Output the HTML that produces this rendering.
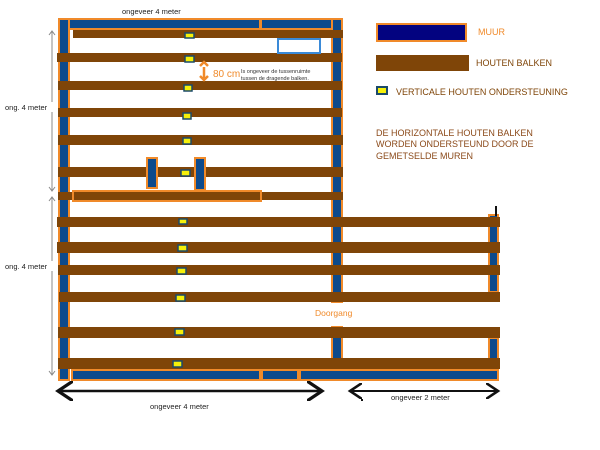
<!DOCTYPE html>
<html><head><meta charset="utf-8"><style>
html,body{margin:0;padding:0;background:#fff;}
svg{display:block;font-family:"Liberation Sans",sans-serif;}
</style></head><body>
<svg width="600" height="450" viewBox="0 0 600 450" xmlns="http://www.w3.org/2000/svg">
<defs>
<marker id="ah" markerWidth="8" markerHeight="8" refX="6" refY="4" orient="auto"><path d="M0,0 L6,4 L0,8" fill="none" stroke="#111" stroke-width="1.3"/></marker>
<marker id="ahs" markerWidth="8" markerHeight="8" refX="2" refY="4" orient="auto"><path d="M8,0 L2,4 L8,8" fill="none" stroke="#111" stroke-width="1.3"/></marker>
</defs>
<!-- walls -->
<g fill="#0d4a8c" stroke="#f08a2a" stroke-width="2">
<rect x="60" y="19" width="200" height="10"/>
<rect x="261" y="19" width="74" height="10"/>
<rect x="59" y="19" width="10" height="361"/>
<rect x="332" y="19" width="10" height="283"/>
<rect x="332" y="327" width="10" height="53"/>
<rect x="489" y="215" width="9" height="77"/>
<rect x="489" y="338" width="9" height="42"/>
<rect x="72" y="370" width="188" height="10"/>
<rect x="262" y="370" width="36" height="10"/>
<rect x="300" y="370" width="198" height="10"/>
</g>
<!-- beams -->
<g fill="#7f4508">
<rect x="73" y="30" width="270" height="8"/>
<rect x="57" y="53" width="285" height="9"/>
<rect x="58" y="81" width="284" height="9"/>
<rect x="58" y="108" width="284" height="9"/>
<rect x="58" y="135" width="285" height="10"/>
<rect x="58" y="167" width="285" height="10"/>
<rect x="58" y="192" width="285" height="8"/>
<rect x="57" y="217" width="443" height="10"/>
<rect x="57" y="242" width="443" height="11"/>
<rect x="58" y="265" width="442" height="10"/>
<rect x="59" y="292" width="441" height="10"/>
<rect x="58" y="327" width="442" height="11"/>
<rect x="58" y="358" width="442" height="11"/>
</g>
<rect x="73" y="191" width="188" height="10" fill="#7f4508" stroke="#f08a2a" stroke-width="2"/>
<rect x="147" y="158" width="10" height="30" fill="#0d4a8c" stroke="#f08a2a" stroke-width="2"/>
<rect x="195" y="158" width="10" height="32" fill="#0d4a8c" stroke="#f08a2a" stroke-width="2"/>
<rect x="278" y="39" width="42" height="14" fill="#fff" stroke="#3a8ad8" stroke-width="2"/>
<!-- posts -->
<g fill="#f5f00a" stroke="#1b4a6a" stroke-width="1.5">
<rect x="185" y="33" width="9" height="5"/>
<rect x="185" y="56" width="9" height="6"/>
<rect x="184" y="85" width="8" height="6"/>
<rect x="183" y="113" width="8" height="6"/>
<rect x="183" y="138" width="8" height="6"/>
<rect x="181" y="170" width="9" height="6"/>
<rect x="179" y="219" width="8" height="5"/>
<rect x="178" y="245" width="9" height="6"/>
<rect x="177" y="268" width="9" height="6"/>
<rect x="176" y="295" width="9" height="6"/>
<rect x="175" y="329" width="9" height="6"/>
<rect x="173" y="361" width="9" height="6"/>
</g>
<!-- 80cm -->
<path d="M204,67 L204,78 M200,66 L204,62 L208,66 M200,76 L204,80 L208,76" stroke="#f08a2a" stroke-width="2.5" fill="none"/>
<text x="213" y="77" font-size="10" fill="#f08a2a">80 cm</text>
<text x="241" y="73" font-size="5.5" fill="#333">Is ongeveer de tussenruimte</text>
<text x="241" y="80" font-size="5.5" fill="#333">tussen de dragende balken.</text>
<!-- dims -->
<text x="122" y="14" font-size="7.5" fill="#222">ongeveer 4 meter</text>
<g stroke="#888" stroke-width="1" fill="none">
<line x1="52" y1="32" x2="52" y2="190"/><path d="M49,35 L52,31 L55,35 M49,187 L52,191 L55,187"/>
<line x1="52" y1="197" x2="52" y2="374"/><path d="M49,201 L52,197 L55,201 M49,371 L52,375 L55,371"/>
</g>
<rect x="10" y="102" width="43" height="10" fill="#fff"/>
<text x="5" y="110" font-size="7.5" fill="#222">ong. 4 meter</text>
<rect x="10" y="261" width="43" height="10" fill="#fff"/>
<text x="5" y="269" font-size="7.5" fill="#222">ong. 4 meter</text>
<line x1="58" y1="391" x2="322" y2="391" stroke="#111" stroke-width="2.5" marker-end="url(#ah)" marker-start="url(#ahs)"/>
<line x1="350" y1="391" x2="498" y2="391" stroke="#111" stroke-width="2" marker-end="url(#ah)" marker-start="url(#ahs)"/>
<text x="150" y="409" font-size="7.5" fill="#222">ongeveer 4 meter</text>
<text x="391" y="400" font-size="7.5" fill="#222">ongeveer 2 meter</text>
<rect x="361" y="399" width="2" height="2" fill="#111"/>
<rect x="495" y="206" width="2" height="10" fill="#111"/>
<text x="315" y="316" font-size="8.5" fill="#f08a2a">Doorgang</text>
<!-- legend -->
<rect x="377" y="24" width="89" height="17" fill="#030380" stroke="#f08a2a" stroke-width="2"/>
<text x="478" y="35" font-size="9" fill="#f08a2a">MUUR</text>
<rect x="376" y="55" width="93" height="16" fill="#7f4508"/>
<text x="476" y="66" font-size="9" fill="#7f4508">HOUTEN BALKEN</text>
<rect x="377" y="87" width="10" height="7" fill="#f5f00a" stroke="#1b4a6a" stroke-width="2"/>
<text x="396" y="95" font-size="9" fill="#7f4508">VERTICALE HOUTEN ONDERSTEUNING</text>
<g font-size="9" fill="#8b4a1a">
<text x="376" y="136">DE HORIZONTALE HOUTEN BALKEN</text>
<text x="376" y="147">WORDEN ONDERSTEUND DOOR DE</text>
<text x="376" y="159">GEMETSELDE MUREN</text>
</g>
</svg>
</body></html>
